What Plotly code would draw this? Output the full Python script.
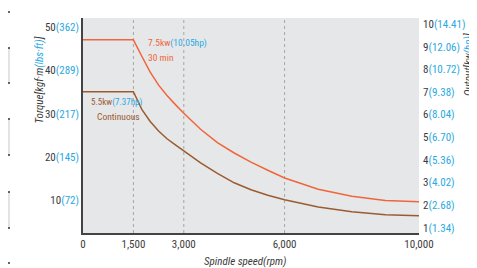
import plotly.graph_objects as go

# ---- data ----
speed = [0, 1500, 1750, 2000, 2250, 2500, 2750, 3000, 3500, 4000, 4500, 5000,
         5500, 6000, 7000, 8000, 9000, 10000]
torque_30min = [47.1, 47.1, 43.3, 39.6, 36.6, 34.2, 32.1, 30.1, 26.4, 23.3, 20.9, 18.8,
                16.9, 15.1, 12.5, 10.9, 9.9, 9.6]
torque_cont = [35.1, 35.1, 31.0, 28.2, 26.0, 24.2, 22.8, 21.4, 18.6, 16.2, 14.0, 12.4,
               11.1, 10.1, 8.4, 7.3, 6.6, 6.4]

x_ticks = [0, 1500, 3000, 6000, 10000]
x_ticklabels = ["0", "1,500", "3,000", "6,000", "10,000"]
grid_speeds = [1500, 3000, 6000]

torque_ticks = [10, 20, 30, 40, 50]
torque_lbs = ["72", "145", "217", "289", "362"]

output_ticks = [1, 2, 3, 4, 5, 6, 7, 8, 9, 10]
output_hp = ["1.34", "2.68", "4.02", "5.36", "6.70", "8.04", "9.38", "10.72", "12.06", "14.41"]

# ---- styles ----
BLUE = "#29a9e1"
DARK = "#3c3c3c"
ORANGE = "#f0663a"
BROWN = "#9b5b30"
FONT = "Liberation Sans Narrow, Roboto Condensed, Liberation Sans, sans-serif"

OFF = 8  # page body margin
W, H = 477 - OFF, 268 - OFF
L, R, T, B = 83 - OFF, 419 - OFF, 18 - OFF, 233 - OFF


def px(x):
    return (x - OFF - L) / (R - L)


def py(y):
    return (B - (y - OFF)) / (B - T)


def dual(a, b):
    return f"{a}<span style='color:{BLUE}'>({b})</span>"


fig = go.Figure()
fig.add_trace(go.Scatter(x=speed, y=torque_30min, mode="lines",
                         line=dict(color=ORANGE, width=1.5), hoverinfo="skip"))
fig.add_trace(go.Scatter(x=speed, y=torque_cont, mode="lines",
                         line=dict(color=BROWN, width=1.5), hoverinfo="skip"))
fig.add_trace(go.Scatter(x=[0], y=[5], yaxis="y2", mode="markers",
                         marker=dict(opacity=0), hoverinfo="skip"))

shapes = []
for s in grid_speeds:
    shapes.append(dict(type="line", xref="x", yref="paper", x0=s, x1=s, y0=0, y1=1,
                       line=dict(color="#a6a6a6", width=1, dash="3px,3px"), layer="below"))

# cropped table fragment at far left
for (y0, y1) in [(48, 83), (119, 155), (192, 228)]:
    shapes.append(dict(type="rect", xref="paper", yref="paper", x0=px(0), x1=px(10),
                       y0=py(y1), y1=py(y0), fillcolor="#e3e3e3", line=dict(width=0)))
for yy in [12, 48, 83, 119, 155, 192, 228, 263]:
    shapes.append(dict(type="line", xref="paper", yref="paper", x0=px(0), x1=px(10),
                       y0=py(yy), y1=py(yy), line=dict(color="#333333", width=1.3)))

annotations = [
    dict(text=f"<i>Torque[kgf·m<span style='color:{BLUE}'>(lbs·ft)</span>]</i>",
         xref="paper", yref="paper", x=px(38.5), y=py(80), textangle=-90,
         xanchor="center", yanchor="middle",
         showarrow=False, font=dict(size=11, color=DARK, family=FONT)),
    dict(text=f"<i>Output[kw<span style='color:{BLUE}'>(hp)</span>]</i>",
         xref="paper", yref="paper", x=px(468), y=py(65), textangle=-90,
         xanchor="center", yanchor="middle",
         showarrow=False, font=dict(size=11, color=DARK, family=FONT)),
    dict(text="<i>Spindle speed(rpm)</i>", xref="paper", yref="paper",
         x=px(245), y=py(262), xanchor="center", yanchor="middle", showarrow=False,
         font=dict(size=11, color=DARK, family=FONT)),
    dict(text=f"7.5kw<span style='color:{BLUE}'>(10.05hp)</span>", xref="paper", yref="paper",
         x=px(146), y=py(43), xanchor="left", yanchor="middle", showarrow=False,
         font=dict(size=9.5, color=ORANGE, family=FONT)),
    dict(text="30 min", xref="paper", yref="paper",
         x=px(146), y=py(57), xanchor="left", yanchor="middle", showarrow=False,
         font=dict(size=9.5, color=ORANGE, family=FONT)),
    dict(text=f"5.5kw<span style='color:{BLUE}'>(7.37hp)</span>", xref="paper", yref="paper",
         x=px(116), y=py(102), xanchor="center", yanchor="middle", showarrow=False,
         font=dict(size=9, color=BROWN, family=FONT)),
    dict(text="Continuous", xref="paper", yref="paper",
         x=px(118), y=py(117), xanchor="center", yanchor="middle", showarrow=False,
         font=dict(size=9.5, color=BROWN, family=FONT)),
    dict(text="e)", xref="paper", yref="paper", x=px(10), y=py(26), xanchor="right",
         yanchor="middle", showarrow=False, font=dict(size=10, color=DARK, family=FONT)),
]

fig.update_layout(
    width=W, height=H,
    margin=dict(l=L, r=W - R, t=T, b=H - B, pad=0, autoexpand=False),
    paper_bgcolor="white",
    plot_bgcolor="#e6e7e9",
    showlegend=False,
    font=dict(family=FONT, size=11, color=DARK),
    xaxis=dict(range=[0, 10000], tickvals=x_ticks, ticktext=x_ticklabels,
               showgrid=False, zeroline=False, showline=True, linecolor="#444444",
               linewidth=1.5, ticks="", tickfont=dict(size=11, color=DARK)),
    yaxis=dict(range=[2.38, 52.15], tickvals=torque_ticks,
               ticktext=[dual(v, l) for v, l in zip(torque_ticks, torque_lbs)],
               showgrid=False, zeroline=False, showline=True, linecolor="#444444",
               linewidth=1.5, ticks="", tickfont=dict(size=11, color=DARK)),
    yaxis2=dict(range=[0.77, 10.27], overlaying="y", side="right",
                tickvals=output_ticks,
                ticktext=[dual(v, l) for v, l in zip(output_ticks, output_hp)],
                showgrid=False, zeroline=False, showline=False, ticks="",
                ticklabelstandoff=3,
                tickfont=dict(size=11, color=DARK)),
    shapes=shapes,
    annotations=annotations,
)

fig.write_html("out.html")
